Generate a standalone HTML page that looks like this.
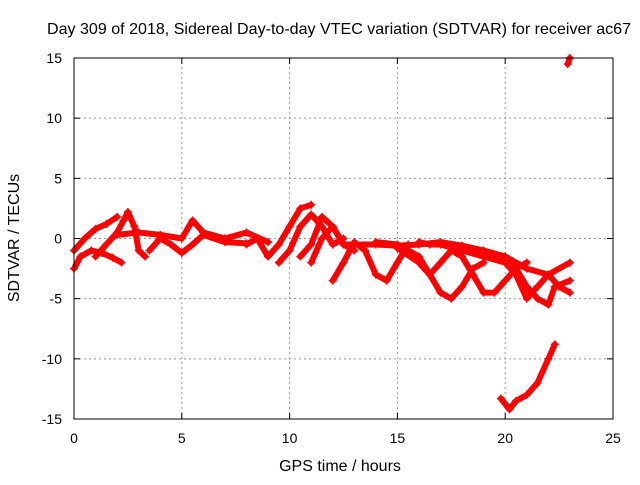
<!DOCTYPE html>
<html><head><meta charset="utf-8">
<style>
body{margin:0;background:#fff;}
svg text{font-family:"Liberation Sans",sans-serif;font-size:14px;fill:#000;}
svg text.big{font-size:16px;}
</style></head>
<body>
<svg id="chart" width="640" height="480" xmlns="http://www.w3.org/2000/svg">
<rect width="640" height="480" fill="#fff"/>
<g id="grid"></g>
<g id="series"></g>
<rect x="74" y="58" width="539" height="361" fill="none" stroke="#000" stroke-width="1"/>
<g id="ticks"></g>
<text class="big" x="339" y="34" text-anchor="middle" textLength="584" lengthAdjust="spacingAndGlyphs">Day 309 of 2018, Sidereal Day-to-day VTEC variation (SDTVAR) for receiver ac67</text>
<text class="big" x="340" y="471" text-anchor="middle">GPS time / hours</text>
<text class="big" transform="translate(19,238) rotate(-90)" text-anchor="middle">SDTVAR / TECUs</text>
</svg>
<script>
const xTicks=[0,5,10,15,20,25];
const yTicks=[15,10,5,0,-5,-10,-15];
const trackA=[[0,-2.5],[0.3,-1.5],[0.8,-1],[1.3,-1.2],[1.8,-1.6],[2.2,-2]];
const trackB=[[0,-1],[0.5,0],[1,0.8],[1.5,1.2],[2,1.8]];
const trackC=[[1,-1.5],[1.5,-0.5],[2,0.5],[2.3,1.5],[2.5,2.2],[2.8,1],[3,-1],[3.3,-1.5]];
const trackD=[[2,0.3],[3,0.5],[4,0.3],[5,0],[5.5,1.5],[6,0.5],[7,0],[8,0.5],[9,-0.3]];
const trackE=[[3.5,-1],[4,0],[4.5,-0.5],[5,-1.2],[5.5,-0.5],[6,0.3],[7,-0.3],[8,-0.4]];
const trackF=[[8,-0.5],[8.5,0],[9,-1.5],[9.5,-0.5],[10,1],[10.5,2.5],[11,2.8]];
const trackG=[[9.5,-2],[10,-1],[10.5,1],[11,2],[11.5,1],[12,-0.5],[12.5,0]];
const trackH=[[10.5,-1.5],[11,-0.5],[11.5,1.8],[12,1],[12.5,-0.5],[13,-0.5],[14,-0.5],[15,-0.6],[16,-0.5],[17,-0.3],[18,-0.6],[19,-1],[20,-1.5],[21,-2.5],[22,-3],[23,-2]];
const trackI=[[11,-2],[11.5,0],[12,1],[12.5,-0.5],[13,-1]];
const trackJ=[[12,-3.5],[12.5,-2],[13,-0.3],[13.5,-1],[14,-3],[14.5,-3.5],[15,-2],[15.5,-0.5]];
const trackK=[[14,-0.3],[15,-0.5],[16,-1.5],[16.5,-3],[17,-4.5],[17.5,-5],[18,-4],[18.5,-2.5],[19,-2]];
const trackL=[[15,-0.8],[16,-2],[16.5,-3],[17,-2],[17.5,-1],[18,-1.5],[18.5,-3],[19,-4.5],[19.5,-4.5],[20,-3.5],[20.5,-2.5],[21,-2]];
const trackM=[[16,-0.3],[16.5,-0.5],[17,-0.5],[18,-1],[19,-1.5],[20,-2],[20.5,-3],[21,-5],[21.5,-4],[22,-3],[22.5,-4],[23,-4.5]];
const trackN=[[19.5,-1.5],[20,-1.5],[20.5,-2.5],[21,-4],[21.5,-5],[22,-5.5],[22.3,-4],[23,-3.5]];
const trackO=[[19.8,-13.3],[20.2,-14.2],[20.5,-13.5],[21,-13],[21.5,-12],[22,-10],[22.3,-8.8]];
const trackP=[[22.9,14.5],[23,15]];
const tracks=[trackA,trackB,trackC,trackD,trackE,trackF,trackG,trackH,trackI,trackJ,trackK,trackL,trackM,trackN,trackO,trackP];

const X0=74,X1=613,Y0=419,Y1=58;
const sx=v=>X0+(v-0)/(25-0)*(X1-X0);
const sy=v=>Y0-(v+15)/30*(Y0-Y1);
const NS="http://www.w3.org/2000/svg";
const grid=document.getElementById('grid'),ticks=document.getElementById('ticks'),ser=document.getElementById('series');
function mk(tag,at,parent){const e=document.createElementNS(NS,tag);for(const k in at)e.setAttribute(k,at[k]);parent.appendChild(e);return e;}
xTicks.forEach(t=>{
  const x=sx(t);
  if(t>0&&t<25){const g=mk('line',{x1:x,x2:x,y1:Y0,y2:Y1,stroke:'#999','stroke-dasharray':'2,3'},grid);
  
  }
  const l=mk('text',{x:x,y:Y0+24,'text-anchor':'middle'},ticks);l.textContent=t;
  
  
  mk('line',{x1:x,x2:x,y1:Y0,y2:Y0-6,stroke:'#000'},ticks);
  mk('line',{x1:x,x2:x,y1:Y1,y2:Y1+6,stroke:'#000'},ticks);
});
yTicks.forEach(t=>{
  const y=sy(t);
  if(t>-15&&t<15){const g=mk('line',{x1:X0,x2:X1,y1:y,y2:y,stroke:'#999','stroke-dasharray':'2,3'},grid);
  
  }
  const l=mk('text',{x:X0-12,y:y+5,'text-anchor':'end'},ticks);l.textContent=t;
  
  
  mk('line',{x1:X0,x2:X0+6,y1:y,y2:y,stroke:'#000'},ticks);
  mk('line',{x1:X1,x2:X1-6,y1:y,y2:y,stroke:'#000'},ticks);
});
tracks.forEach((tr,i)=>{
  const p=mk('polyline',{points:tr.map(d=>sx(d[0])+','+sy(d[1])).join(' '),fill:'none',stroke:'#ff0000','stroke-width':6,'stroke-linejoin':'round','stroke-linecap':'round'},ser);
  
  
  tr.forEach(d=>{
    const x=sx(d[0]),y=sy(d[1]);
    const m=mk('path',{d:`M${x-4},${y}H${x+4}M${x},${y-4}V${y+4}`,stroke:'#ff0000','stroke-width':1.5},ser);
    
    
  });
});
</script>
</body></html>
